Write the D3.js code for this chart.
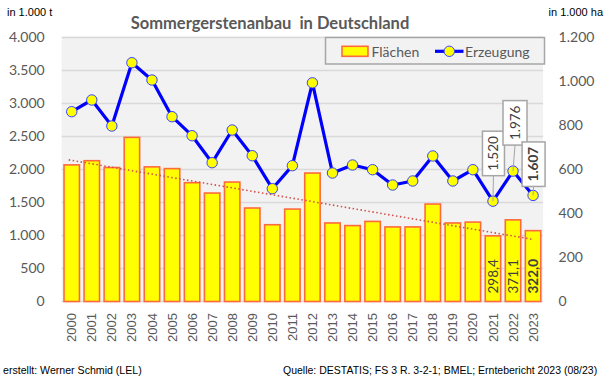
<!DOCTYPE html>
<html><head><meta charset="utf-8">
<script src="https://cdn.jsdelivr.net/npm/d3@7/dist/d3.min.js"></script>
<style>
html,body{margin:0;padding:0;background:#fff;}
svg{display:block;}
</style></head>
<body>
<svg id="c" width="607" height="380"></svg>
<script>
// ---- data ----
const years = ["2000","2001","2002","2003","2004","2005","2006","2007","2008","2009","2010","2011","2012","2013","2014","2015","2016","2017","2018","2019","2020","2021","2022","2023"];
// Anbaufläche, 1.000 ha (right axis)
const flaechen = [621,640,609,746,612,604,540,493,543,425,349,420,584,357,345,364,339,339,443,357,361,298.4,371.1,322.0];
// Erzeugung, 1.000 t (left axis)
const erzeugung = [2876,3053,2659,3618,3356,2800,2512,2103,2598,2209,1709,2058,3313,1947,2068,1997,1765,1826,2205,1826,1997,1520,1976,1607];
const leftTicks = [0,500,1000,1500,2000,2500,3000,3500,4000];
const rightTicks = [0,200,400,600,800,1000,1200];
const barLabelYears = ["2021","2022","2023"];
const lineLabelYears = ["2021","2022","2023"];

const fmtDE = d3.formatLocale({decimal:",", thousands:".", grouping:[3], currency:["","€"]});
const fmtInt = fmtDE.format(",.0f");
const fmt1 = fmtDE.format(".1f");

const svg = d3.select("#c");
const X0 = 61.7, X1 = 543.1, Y0 = 301.5, Y1 = 37.5;
const gray = "#595959";

const x = d3.scaleBand().domain(years).range([X0, X1]).paddingInner(0.23).paddingOuter(0.115);
const yL = d3.scaleLinear().domain([0,4000]).range([Y0, Y1]);
const yR = d3.scaleLinear().domain([0,1200]).range([Y0, Y1]);
const cx = d => x(d) + x.bandwidth()/2;

// plot background
svg.append("rect").attr("x", X0).attr("y", Y1-1).attr("width", X1-X0).attr("height", Y0-Y1+1).attr("fill", "#F2F2F2");

// gridlines
svg.append("g").selectAll("line").data(leftTicks).join("line")
  .attr("x1", X0).attr("x2", X1).attr("y1", d=>yL(d)).attr("y2", d=>yL(d))
  .attr("stroke", "#D9D9D9").attr("stroke-width", 1.5);

// left axis
const gL = svg.append("g").attr("transform", `translate(${X0},0)`)
  .call(d3.axisLeft(yL).tickValues(leftTicks).tickFormat(fmtInt).tickSize(0).tickPadding(17));
gL.select(".domain").remove();
gL.selectAll("text").attr("font-family","Lato, 'Open Sans', sans-serif").attr("font-size","14px").attr("fill",gray);

// right axis
const gR = svg.append("g").attr("transform", `translate(${X1},0)`)
  .call(d3.axisRight(yR).tickValues(rightTicks).tickFormat(fmtInt).tickSize(0).tickPadding(15.5));
gR.select(".domain").remove();
gR.selectAll("text").attr("font-family","Lato, 'Open Sans', sans-serif").attr("font-size","14px").attr("fill",gray);

// bottom axis (years, rotated)
const gB = svg.append("g").attr("transform", `translate(0,${Y0})`)
  .call(d3.axisBottom(x).tickSize(0));
gB.select(".domain").remove();
gB.selectAll("text")
  .attr("font-family","'Liberation Sans', Arial, sans-serif").attr("font-size","13px").attr("fill",gray)
  .attr("transform","rotate(-90)").attr("text-anchor","end").attr("dy","0.35em")
  .attr("x",-11.5).attr("y",0);

// bars
svg.append("g").selectAll("rect").data(years).join("rect")
  .attr("x", d=>x(d)).attr("width", x.bandwidth())
  .attr("y", (d,i)=>yR(flaechen[i])).attr("height", (d,i)=>Y0 - yR(flaechen[i]))
  .attr("fill", "#FFFF00").attr("stroke", "#FF6A3D").attr("stroke-width", 1.6);

// linear trend of bars
const n = years.length;
const mi = d3.mean(d3.range(n)), my = d3.mean(flaechen);
const slope = d3.sum(d3.range(n), i => (i-mi)*(flaechen[i]-my)) / d3.sum(d3.range(n), i => (i-mi)*(i-mi));
const icpt = my - slope*mi;
svg.append("line")
  .attr("x1", cx(years[0]) - 3).attr("y1", yR(icpt + slope*(-0.15)))
  .attr("x2", cx(years[n-1])).attr("y2", yR(icpt + slope*(n-1)))
  .attr("stroke", "#D0504D").attr("stroke-width", 1.6).attr("stroke-dasharray", "1.5,2.5");

// bar labels
svg.append("g").selectAll("text").data(barLabelYears).join("text")
  .attr("transform", d => `translate(${cx(d)},${Y0-8}) rotate(-90)`)
  .attr("dy","0.36em")
  .attr("font-family","Lato, 'Open Sans', sans-serif").attr("font-size","13.5px")
  .attr("font-weight", d => d==="2023" ? "bold" : "normal")
  .attr("fill","#404040")
  .text(d => fmt1(flaechen[years.indexOf(d)]));

// line
const line = d3.line().x(d=>cx(d)).y(d=>yL(erzeugung[years.indexOf(d)]));
svg.append("path").datum(years).attr("d", line)
  .attr("fill","none").attr("stroke","#0000FF").attr("stroke-width",3.2).attr("stroke-linejoin","round");
svg.append("g").selectAll("circle").data(years).join("circle")
  .attr("cx", d=>cx(d)).attr("cy", (d,i)=>yL(erzeugung[i])).attr("r", 5.2)
  .attr("fill","#FFFF00").attr("stroke","#3344FF").attr("stroke-width",1);

// line data labels (callout boxes)
const calloutOffsets = {"2021":{dx:0.5,gap:25.5,w:22},"2022":{dx:2,gap:26,w:24},"2023":{dx:0.5,gap:9,w:23}};
const boxH = 44.5;
const gC = svg.append("g");
lineLabelYears.forEach(yr => {
  const i = years.indexOf(yr);
  const px = cx(yr), py = yL(erzeugung[i]);
  const o = calloutOffsets[yr];
  const bx = px + o.dx, bBottom = py - o.gap;
  gC.append("line").attr("x1", px).attr("y1", py).attr("x2", bx).attr("y2", bBottom)
    .attr("stroke","#A6A6A6").attr("stroke-width",1);
  gC.append("rect").attr("x", bx - o.w/2).attr("y", bBottom - boxH).attr("width", o.w).attr("height", boxH)
    .attr("fill","#FFFFFF").attr("stroke","#A6A6A6").attr("stroke-width",1.5);
  gC.append("text").attr("transform", `translate(${bx},${bBottom - boxH/2}) rotate(-90)`)
    .attr("text-anchor","middle").attr("dy","0.36em")
    .attr("font-family","Lato, 'Open Sans', sans-serif").attr("font-size","13.5px")
    .attr("font-weight", yr==="2023" ? "bold" : "normal")
    .attr("fill","#404040").text(fmtInt(erzeugung[i]));
});

// legend
const lg = svg.append("g");
lg.append("rect").attr("x",325.5).attr("y",37.5).attr("width",219).attr("height",26.5)
  .attr("fill","#F2F2F2").attr("stroke","#A6A6A6").attr("stroke-width",1.5);
lg.append("rect").attr("x",342).attr("y",46.3).attr("width",26).attr("height",10)
  .attr("fill","#FFFF00").attr("stroke","#FF6A3D").attr("stroke-width",1.6);
lg.append("text").attr("x",371.5).attr("y",56.5).text("Flächen")
  .attr("font-family","Lato, 'Open Sans', sans-serif").attr("font-size","14px").attr("fill",gray);
lg.append("line").attr("x1",435).attr("x2",463.5).attr("y1",51.3).attr("y2",51.3)
  .attr("stroke","#0000FF").attr("stroke-width",3.2);
lg.append("circle").attr("cx",449.3).attr("cy",51.3).attr("r",5.2)
  .attr("fill","#FFFF00").attr("stroke","#3344FF").attr("stroke-width",1);
lg.append("text").attr("x",465).attr("y",56.5).text("Erzeugung")
  .attr("font-family","Lato, 'Open Sans', sans-serif").attr("font-size","14px").attr("fill",gray);

// title and units
svg.append("text").attr("x",270).attr("y",29).attr("text-anchor","middle")
  .attr("font-family","Lato, 'Open Sans', sans-serif").attr("font-size","16.5px").attr("font-weight","bold")
  .attr("fill",gray).attr("xml:space","preserve").style("white-space","pre")
  .text("Sommergerstenanbau  in Deutschland");
svg.append("text").attr("x",7).attr("y",15.5).text("in 1.000 t")
  .attr("font-family","'Liberation Sans', Arial, sans-serif").attr("font-size","11px").attr("fill","#000");
svg.append("text").attr("x",603).attr("y",15.5).attr("text-anchor","end").text("in 1.000 ha")
  .attr("font-family","'Liberation Sans', Arial, sans-serif").attr("font-size","11px").attr("fill","#000");

// footer
svg.append("text").attr("x",3).attr("y",374).text("erstellt: Werner Schmid (LEL)")
  .attr("font-family","'Liberation Sans', Arial, sans-serif").attr("font-size","10.6px").attr("fill","#000");
svg.append("text").attr("x",283).attr("y",374).text("Quelle: DESTATIS; FS 3 R. 3-2-1; BMEL; Erntebericht 2023 (08/23)")
  .attr("font-family","'Liberation Sans', Arial, sans-serif").attr("font-size","10.5px").attr("fill","#000");
</script>
</body></html>
